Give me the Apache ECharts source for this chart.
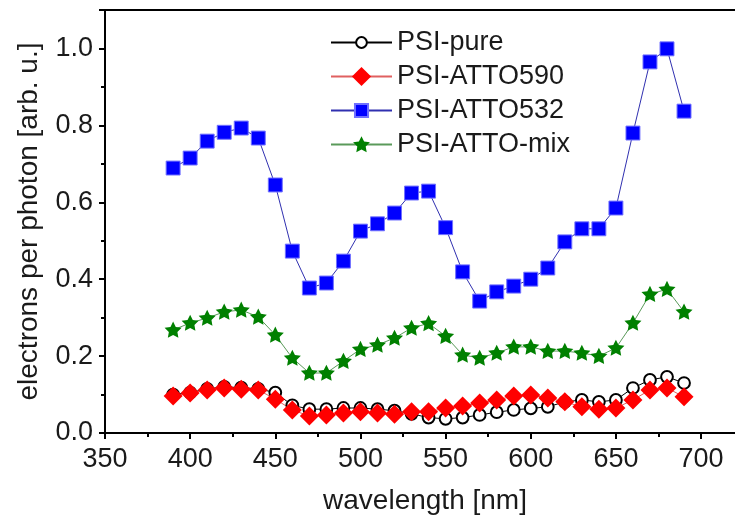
<!DOCTYPE html>
<html>
<head>
<meta charset="utf-8">
<script src="https://cdn.jsdelivr.net/npm/echarts@6/dist/echarts.min.js"></script>
<style>
html,body{margin:0;padding:0;background:#fff;}
#chart{width:735px;height:527px;}
</style>
</head>
<body>
<div id="chart"></div>
<script>
const wavelengths = [390,400,410,420,430,440,450,460,470,480,490,500,510,520,530,540,550,560,570,580,590,600,610,620,630,640,650,660,670,680,690];
const psiPure = [0.100,0.105,0.115,0.120,0.118,0.115,0.105,0.072,0.062,0.062,0.065,0.065,0.062,0.058,0.050,0.040,0.037,0.040,0.047,0.054,0.060,0.064,0.068,0.081,0.086,0.081,0.086,0.117,0.138,0.146,0.130];
const psiAtto590 = [0.096,0.104,0.112,0.117,0.114,0.112,0.088,0.060,0.044,0.047,0.052,0.055,0.052,0.049,0.055,0.055,0.065,0.070,0.078,0.086,0.096,0.099,0.091,0.081,0.068,0.062,0.065,0.086,0.112,0.117,0.094];
const psiAtto532 = [0.689,0.715,0.759,0.782,0.793,0.767,0.645,0.473,0.377,0.390,0.447,0.525,0.544,0.572,0.624,0.629,0.534,0.419,0.343,0.367,0.382,0.400,0.429,0.497,0.531,0.531,0.585,0.780,0.965,0.999,0.837];
const psiAttoMix = [0.268,0.286,0.299,0.315,0.320,0.302,0.255,0.195,0.156,0.156,0.187,0.218,0.229,0.247,0.273,0.285,0.252,0.203,0.195,0.208,0.224,0.224,0.213,0.213,0.208,0.200,0.221,0.286,0.361,0.374,0.315];
const seriesNames = ['PSI-pure','PSI-ATTO590','PSI-ATTO532','PSI-ATTO-mix'];

const pairs = (ys) => wavelengths.map((x,i)=>[x, ys[i]]);
const FONT = 'Liberation Sans, Arial, sans-serif';
const TXT = '#1a1a1a';

// symbol shapes (with padding so legend icons keep relative sizes)
const PAD = 'M0,0 M100,100 ';
const CIRCLE = 'path://' + PAD + 'M22,50 A28,28 0 1,0 78,50 A28,28 0 1,0 22,50 Z';
const SQUARE = 'path://' + PAD + 'M16,16 L84,16 L84,84 L16,84 Z';
const STAR = 'path://' + PAD + 'M50,7 L63.52,34.39 L93.75,38.79 L71.88,60.11 L77.04,90.21 L50,76 L22.96,90.21 L28.12,60.11 L6.25,38.79 L36.48,34.39 Z';

const chart = echarts.init(document.getElementById('chart'));
chart.setOption({
  animation: false,
  backgroundColor: '#fff',
  grid: {left: 105, right: -10, top: 10, bottom: 94, outerBoundsMode: 'none', containLabel: false,
         show: true, borderColor: '#000', borderWidth: 2, backgroundColor: 'transparent'},
  legend: {
    orient: 'vertical', left: 325, top: 24,
    itemWidth: 61, itemHeight: 24, itemGap: 7,
    textStyle: {fontFamily: FONT, fontSize: 27, color: TXT, lineHeight: 27},
    data: seriesNames
  },
  xAxis: {
    type: 'value', min: 350, max: 725.8, interval: 50,
    name: 'wavelength [nm]', nameLocation: 'middle', nameGap: 54,
    nameTextStyle: {fontFamily: FONT, fontSize: 28, color: TXT},
    axisLine: {show: true, lineStyle: {color: '#000', width: 2}},
    axisTick: {show: true, inside: false, length: 6, lineStyle: {color: '#000', width: 2}},
    minorTick: {show: true, splitNumber: 2, length: 4, lineStyle: {color: '#000', width: 2}},
    axisLabel: {fontFamily: FONT, fontSize: 27, color: TXT, margin: 13, showMaxLabel: false},
    splitLine: {show: false}
  },
  yAxis: {
    type: 'value', min: 0, max: 1.1, interval: 0.2,
    name: 'electrons per photon [arb. u.]', nameLocation: 'middle', nameGap: 62,
    nameTextStyle: {fontFamily: FONT, fontSize: 28, color: TXT},
    axisLine: {show: true, lineStyle: {color: '#000', width: 2}},
    axisTick: {show: true, inside: false, length: 6, lineStyle: {color: '#000', width: 2}},
    minorTick: {show: true, splitNumber: 2, length: 4, lineStyle: {color: '#000', width: 2}},
    axisLabel: {fontFamily: FONT, fontSize: 27, color: TXT, margin: 12, showMaxLabel: false, formatter: v => v.toFixed(1)},
    splitLine: {show: false}
  },
  series: [
    {name: seriesNames[0], type: 'line', data: pairs(psiPure), symbol: CIRCLE, symbolSize: 21,
     lineStyle: {color: '#000', width: 1}, itemStyle: {color: '#fff', borderColor: '#000', borderWidth: 2}},
    {name: seriesNames[1], type: 'line', data: pairs(psiAtto590), symbol: 'diamond', symbolSize: 19,
     lineStyle: {color: '#e06060', width: 1}, itemStyle: {color: '#ff0000', borderColor: '#ff0000', borderWidth: 0}},
    {name: seriesNames[2], type: 'line', data: pairs(psiAtto532), symbol: SQUARE, symbolSize: 20.5,
     lineStyle: {color: '#3030b0', width: 1}, itemStyle: {color: '#0000ff', borderColor: '#7070ff', borderWidth: 1}},
    {name: seriesNames[3], type: 'line', data: pairs(psiAttoMix), symbol: STAR, symbolSize: 19.5,
     lineStyle: {color: '#5a9a5a', width: 1}, itemStyle: {color: '#008000', borderColor: '#008000', borderWidth: 0}}
  ]
});
</script>
</body>
</html>
